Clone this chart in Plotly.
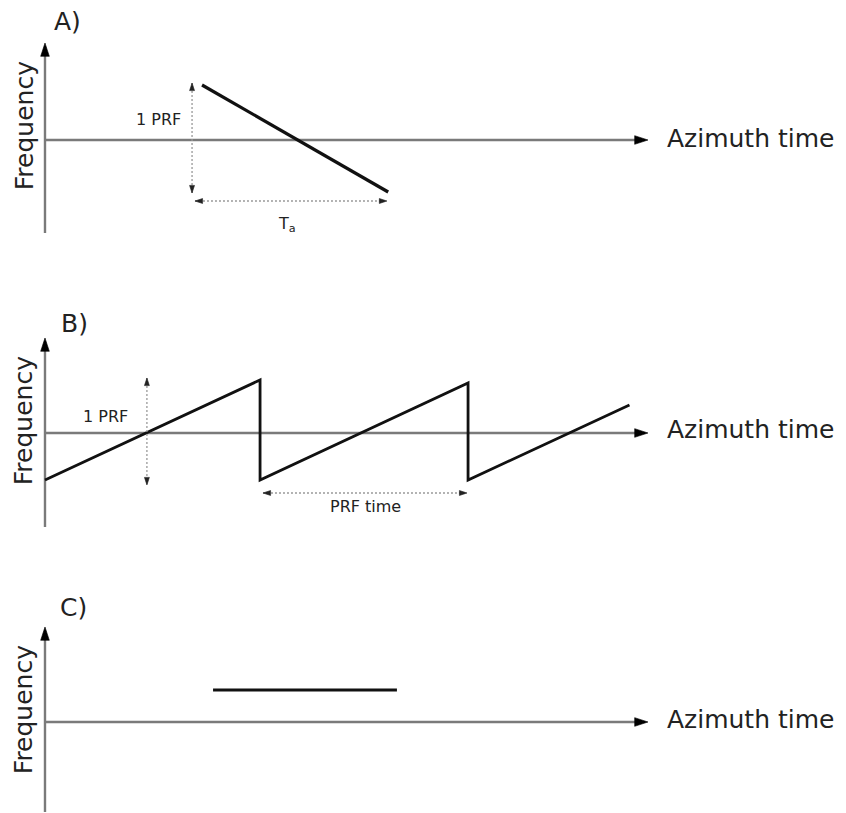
import plotly.graph_objects as go

W, H = 846, 813

# Shared time axis (units of one PRF period)
T_RANGE = [-0.2163, 3.851]
T_AXIS_END = 2.899

# Panel A: single azimuth chirp
a_chirp_t = [0.755, 1.65]
a_chirp_f = [0.55, -0.52]
a_prf_t = 0.707
a_prf_f = [0.57, -0.53]
a_ta_f = -0.61
a_ta_t = [0.721, 1.644]
a_freq_axis = [-0.93, 0.97]

# Panel B: aliased (wrapped) chirp, sawtooth
b_saw_t = [0.0, 1.034, 1.034, 2.034, 2.034, 2.81]
b_saw_f = [-0.47, 0.53, -0.47, 0.50, -0.47, 0.28]
b_prf_t = 0.49
b_prf_f = [0.55, -0.52]
b_period_f = -0.60
b_period_t = [1.048, 2.029]
b_freq_axis = [-0.94, 0.95]

# Panel C: deramped signal, constant frequency
c_flat_t = [0.808, 1.692]
c_flat_f = [0.32, 0.32]
c_freq_axis = [-0.90, 0.95]

panel_labels = ["A)", "B)", "C)"]
label_pos = [(0.11, 1.19), (0.144, 1.09), (0.139, 1.14)]
freq_label_f = [0.14, 0.12, 0.12]
az_label_f = [0.02, 0.03, 0.02]
y_domains = [[0.6679, 1.0], [0.3112, 0.6433], [0.0, 0.3112]]
y_ranges = [[-1.3, 1.4], [-1.27, 1.43], [-0.91, 1.62]]
freq_axes = [a_freq_axis, b_freq_axis, c_freq_axis]

FONT = "DejaVu Sans"
TXT = "#222222"
AXIS_GRAY = "#7a7a7a"
DOT_GRAY = "#999999"
HEAD = "#000000"

fig = go.Figure()
annotations = []


def refs(i):
    s = "" if i == 0 else str(i + 1)
    return "x" + s, "y" + s


def line(i, xs, ys, color, width, dash="solid"):
    xr, yr = refs(i)
    fig.add_trace(go.Scatter(
        x=xs, y=ys, xaxis=xr, yaxis=yr, mode="lines",
        line=dict(color=color, width=width, dash=dash),
        hoverinfo="skip", showlegend=False,
    ))


def head(i, xs, ys, size, color=HEAD):
    # arrow marker at the second point, pointing away from the first
    xr, yr = refs(i)
    fig.add_trace(go.Scatter(
        x=xs, y=ys, xaxis=xr, yaxis=yr, mode="markers",
        marker=dict(symbol="arrow", size=[0, size], angleref="previous",
                    color=color, opacity=1, line=dict(width=0.6, color=color)),
        hoverinfo="skip", showlegend=False,
    ))


def text(i, x, y, s, size, angle=0, xanchor="center"):
    xr, yr = refs(i)
    annotations.append(dict(
        x=x, y=y, xref=xr, yref=yr, text=s, showarrow=False,
        textangle=angle, xanchor=xanchor, yanchor="middle",
        font=dict(family=FONT, size=size, color=TXT),
    ))


for i in range(3):
    # frequency and azimuth-time axes with arrow tips
    f0, f1 = freq_axes[i]
    line(i, [0, 0], [f0, f1 - 0.04], AXIS_GRAY, 2.4)
    line(i, [0, T_AXIS_END - 0.03], [0, 0], AXIS_GRAY, 2.4)
    head(i, [0, 0], [f0, f1], 14)
    head(i, [0, T_AXIS_END], [0, 0], 14)
    lx, ly = label_pos[i]
    text(i, lx, ly, panel_labels[i], 25)
    text(i, -0.10, freq_label_f[i], "Frequency", 25, angle=-90)
    text(i, 2.981, az_label_f[i], "Azimuth time", 25, xanchor="left")


def dotted_arrow(i, xs, ys):
    line(i, xs, ys, DOT_GRAY, 1.3, dash="2px,2px")
    head(i, xs, ys, 8, "#222222")
    head(i, xs[::-1], ys[::-1], 8, "#222222")


# Panel A
line(0, a_chirp_t, a_chirp_f, "#111111", 3.2)
dotted_arrow(0, [a_prf_t, a_prf_t], a_prf_f)
dotted_arrow(0, a_ta_t, [a_ta_f, a_ta_f])
text(0, 0.548, 0.21, "1 PRF", 16)
text(0, 1.165, -0.84, "T<sub>a</sub>", 16)

# Panel B
line(1, b_saw_t, b_saw_f, "#111111", 2.8)
dotted_arrow(1, [b_prf_t, b_prf_t], b_prf_f)
dotted_arrow(1, b_period_t, [b_period_f, b_period_f])
text(1, 0.293, 0.16, "1 PRF", 16)
text(1, 1.543, -0.74, "PRF time", 16)

# Panel C
line(2, c_flat_t, c_flat_f, "#111111", 3.2)

layout = dict(
    width=W, height=H, margin=dict(l=0, r=0, t=0, b=0),
    paper_bgcolor="white", plot_bgcolor="white",
    annotations=annotations, showlegend=False,
)
for i in range(3):
    s = "" if i == 0 else str(i + 1)
    layout["xaxis" + s] = dict(range=T_RANGE, domain=[0, 1], visible=False,
                               anchor="y" + s, fixedrange=True)
    layout["yaxis" + s] = dict(range=y_ranges[i], domain=y_domains[i],
                               visible=False, anchor="x" + s, fixedrange=True)
fig.update_layout(**layout)
fig.write_html("out.html", config={"displayModeBar": False})
